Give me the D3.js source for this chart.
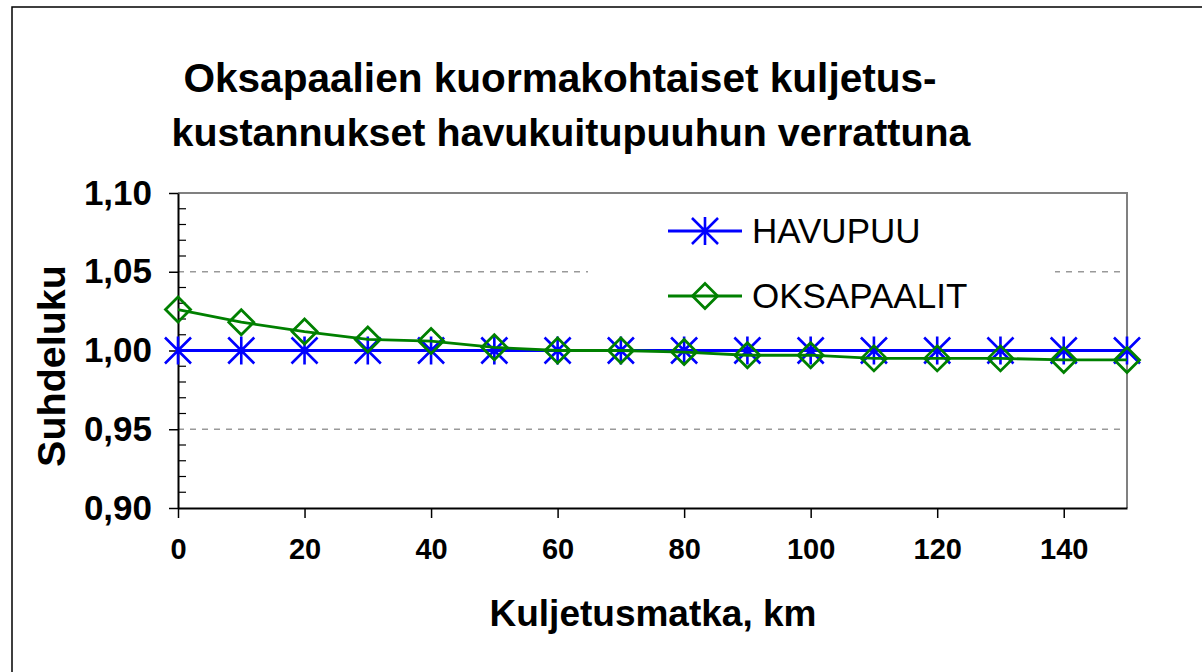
<!DOCTYPE html>
<html>
<head>
<meta charset="utf-8">
<script src="https://cdn.jsdelivr.net/npm/d3@7"></script>
<style>
  body { margin: 0; background: #fff; }
  svg { display: block; font-family: "Liberation Sans", Arial, sans-serif; }
</style>
</head>
<body>
<svg id="chart" width="1202" height="672"></svg>
<script>
// data
var distances = [0, 10, 20, 30, 40, 50, 60, 70, 80, 90, 100, 110, 120, 130, 140, 150];
var havupuu = [1, 1, 1, 1, 1, 1, 1, 1, 1, 1, 1, 1, 1, 1, 1, 1];
var oksapaalit = [1.026, 1.018, 1.012, 1.007, 1.006, 1.002, 1.000, 1.000, 0.999, 0.997, 0.997, 0.995, 0.995, 0.995, 0.994, 0.994];
var xTicks = [0, 20, 40, 60, 80, 100, 120, 140];
var yTicks = [0.90, 0.95, 1.00, 1.05, 1.10];
var seriesNames = ["HAVUPUU", "OKSAPAALIT"];

var svg = d3.select("#chart");

// outer frame (right/bottom sides fall outside the picture)
svg.append("rect")
    .attr("x", 12).attr("y", 7)
    .attr("width", 1300).attr("height", 800)
    .attr("fill", "none").attr("stroke", "#000").attr("stroke-width", 1.5);

var plotLeft = 178, plotRight = 1127, plotTop = 193, plotBottom = 508;

var x = d3.scaleLinear().domain([0, 150]).range([plotLeft, plotRight]);
var y = d3.scaleLinear().domain([0.90, 1.10]).range([plotBottom, plotTop]);

// gridlines
svg.append("g").selectAll("line")
    .data(yTicks.slice(1, -1))
    .enter().append("line")
    .attr("x1", plotLeft).attr("x2", plotRight)
    .attr("y1", function(d) { return y(d); })
    .attr("y2", function(d) { return y(d); })
    .attr("stroke", "#999").attr("stroke-width", 1.3)
    .attr("stroke-dasharray", "6,6");

// plot border top/right
svg.append("path")
    .attr("d", "M" + plotLeft + "," + plotTop + "H" + plotRight + "V" + plotBottom)
    .attr("fill", "none").attr("stroke", "#808080").attr("stroke-width", 2);

// x axis
var xAxis = d3.axisBottom(x).tickValues(xTicks).tickSize(10).tickSizeOuter(0).tickPadding(20)
    .tickFormat(d3.format("d"));
var gx = svg.append("g").attr("transform", "translate(0," + plotBottom + ")").call(xAxis);
gx.select(".domain").attr("stroke", "#000").attr("stroke-width", 2);
gx.selectAll(".tick line").attr("stroke", "#000").attr("stroke-width", 1.5);
gx.selectAll("text").attr("font-size", 29).attr("font-weight", "bold")
    .attr("font-family", "Liberation Sans, Arial, sans-serif").attr("fill", "#000");

// y axis
var fmt = function(d) { return d3.format(".2f")(d).replace(".", ","); };
var yAxis = d3.axisLeft(y).tickValues(yTicks).tickSize(9).tickSizeOuter(0).tickPadding(17).tickFormat(fmt);
var gy = svg.append("g").attr("transform", "translate(" + plotLeft + ",0)").call(yAxis);
gy.select(".domain").attr("stroke", "#000").attr("stroke-width", 2);
gy.selectAll(".tick line").attr("stroke", "#000").attr("stroke-width", 1.5);
gy.selectAll("text").attr("font-size", 35).attr("font-weight", "bold")
    .attr("font-family", "Liberation Sans, Arial, sans-serif").attr("fill", "#000");

// minor ticks inside
var minor = d3.range(0, 21).map(function(i) { return 0.90 + i * 0.01; })
    .filter(function(d, i) { return i % 5 !== 0; });
svg.append("g").selectAll("line")
    .data(minor)
    .enter().append("line")
    .attr("x1", plotLeft).attr("x2", plotLeft + 8)
    .attr("y1", function(d) { return y(d); })
    .attr("y2", function(d) { return y(d); })
    .attr("stroke", "#000").attr("stroke-width", 1.2);

// markers
function star(g, cx, cy, r, color) {
    var d = r * 0.93;
    g.append("path")
        .attr("d", "M" + (cx - d) + "," + (cy - d) + "L" + (cx + d) + "," + (cy + d) +
                   "M" + (cx - d) + "," + (cy + d) + "L" + (cx + d) + "," + (cy - d) +
                   "M" + cx + "," + (cy - r) + "L" + cx + "," + (cy + r))
        .attr("stroke", color).attr("stroke-width", 2.6).attr("fill", "none");
}
function diamond(g, cx, cy, r, color) {
    g.append("path")
        .attr("d", "M" + cx + "," + (cy - r) + "L" + (cx + r) + "," + cy + "L" + cx + "," + (cy + r) +
                   "L" + (cx - r) + "," + cy + "Z")
        .attr("stroke", color).attr("stroke-width", 2.8).attr("fill", "none");
}

var line = d3.line()
    .x(function(d, i) { return x(distances[i]); })
    .y(function(d) { return y(d); });

var gBlue = svg.append("g");
gBlue.append("path").datum(havupuu).attr("d", line)
    .attr("fill", "none").attr("stroke", "#0000ff").attr("stroke-width", 2.8);
havupuu.forEach(function(v, i) { star(gBlue, x(distances[i]), y(v), 14, "#0000ff"); });

var gGreen = svg.append("g");
gGreen.append("path").datum(oksapaalit).attr("d", line)
    .attr("fill", "none").attr("stroke", "#008000").attr("stroke-width", 2.8);
oksapaalit.forEach(function(v, i) { diamond(gGreen, x(distances[i]), y(v), 12.5, "#008000"); });

// legend
var lg = svg.append("g");
lg.append("rect").attr("x", 588).attr("y", 203).attr("width", 467).attr("height", 120).attr("fill", "#fff");
var legendY = [231, 296];
seriesNames.forEach(function(name, i) {
    var color = i === 0 ? "#0000ff" : "#008000";
    lg.append("line").attr("x1", 668).attr("x2", 742)
        .attr("y1", legendY[i]).attr("y2", legendY[i])
        .attr("stroke", color).attr("stroke-width", 2.8);
    if (i === 0) star(lg, 705, legendY[i], 14, color);
    else diamond(lg, 705, legendY[i], 12.5, color);
    lg.append("text").attr("x", 752).attr("y", legendY[i] + 12)
        .attr("font-size", 35).attr("fill", "#000").text(name);
});

// titles
var title = svg.append("text").attr("text-anchor", "middle")
    .attr("font-weight", "bold").attr("fill", "#000");
title.append("tspan").attr("x", 560).attr("y", 92).attr("font-size", 40.6)
    .text("Oksapaalien kuormakohtaiset kuljetus-");
title.append("tspan").attr("x", 571).attr("y", 146).attr("font-size", 39.4)
    .text("kustannukset havukuitupuuhun verrattuna");

svg.append("text").attr("x", 653).attr("y", 626).attr("text-anchor", "middle")
    .attr("font-size", 37).attr("font-weight", "bold").attr("fill", "#000")
    .text("Kuljetusmatka, km");

svg.append("text").attr("transform", "translate(65,366) rotate(-90)")
    .attr("text-anchor", "middle")
    .attr("font-size", 39.5).attr("font-weight", "bold").attr("fill", "#000")
    .text("Suhdeluku");
</script>
</body>
</html>
